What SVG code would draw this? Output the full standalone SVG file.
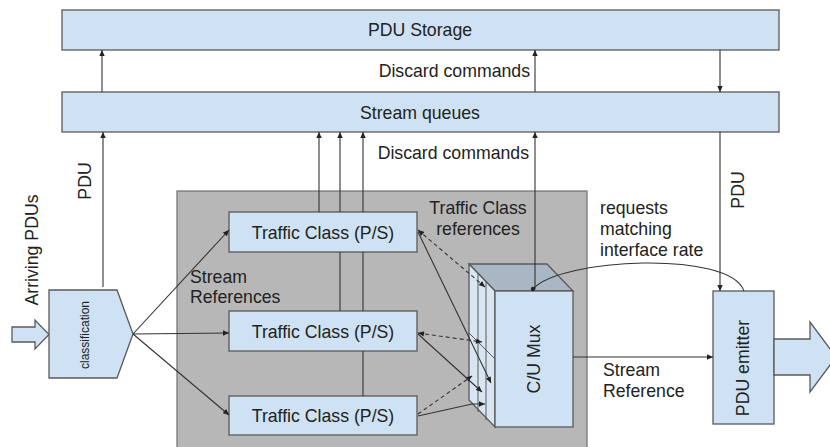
<svg xmlns="http://www.w3.org/2000/svg" width="830" height="447" viewBox="0 0 830 447">
<defs>
<marker id="ah" viewBox="0 0 10 10" refX="10" refY="5" markerWidth="7" markerHeight="6" orient="auto-start-reverse" markerUnits="userSpaceOnUse">
<path d="M0,0.5 L10,5 L0,9.5 z" fill="#222"/>
</marker>
<style>
.box{fill:#cfe2f3;stroke:#595959;stroke-width:1.3}
.t{font-family:"Liberation Sans",Arial,sans-serif;font-size:17.7px;fill:#222}
.s{font-size:12px}
.c{stroke:#333;stroke-width:1.1;fill:none}
.d{stroke-dasharray:4 3}
.m{text-anchor:middle;dominant-baseline:central}
</style>
</defs>
<rect x="0" y="0" width="830" height="447" fill="#ffffff"/>

<g id="group-box">
<rect x="177" y="191" width="410" height="262" fill="#b7b7b7" stroke="#6f6f6f" stroke-width="1.2"/>
</g>

<g id="pdu-storage">
<rect x="62" y="10" width="717" height="40" class="box"/>
<text x="420" y="30" class="t m">PDU Storage</text>
</g>

<g id="stream-queues">
<rect x="62" y="92" width="717" height="40" class="box"/>
<text x="420" y="113" class="t m">Stream queues</text>
</g>

<g id="input-arrow">
<polygon points="12,327 35,327 35,320 49,334.5 35,349 35,342 12,342" class="box"/>
</g>

<g id="classification">
<polygon points="49,290 117,290 133,334 117,378 49,378" class="box"/>
<text transform="translate(85,335) rotate(-90)" class="t s m">classification</text>
</g>

<g id="tc1">
<rect x="229" y="212" width="188" height="40" class="box"/>
<text x="323" y="233" class="t m">Traffic Class (P/S)</text>
</g>
<g id="tc2">
<rect x="229" y="311" width="188" height="40" class="box"/>
<text x="323" y="332" class="t m">Traffic Class (P/S)</text>
</g>
<g id="tc3">
<rect x="229" y="396" width="188" height="39" class="box"/>
<text x="323" y="416" class="t m">Traffic Class (P/S)</text>
</g>

<g id="mux">
<polygon points="469,264 547,264 573,291 495,291" fill="#a9b6c3" stroke="#595959" stroke-width="1.3"/>
<polygon points="469,264 495,291 495,427 469,400" fill="#d8e6f3" stroke="#595959" stroke-width="1.3"/>
<rect x="495" y="291" width="78" height="136" class="box"/>
<line x1="469" y1="333" x2="495" y2="359" stroke="#595959" stroke-width="1"/>
<line x1="478" y1="273" x2="478" y2="412" stroke="#595959" stroke-width="1"/>
<line x1="486" y1="281" x2="486" y2="420" stroke="#595959" stroke-width="1"/>
<text transform="translate(534,359) rotate(-90)" class="t m">C/U Mux</text>
</g>

<g id="pdu-emitter">
<rect x="713" y="291" width="61" height="133" class="box"/>
<text transform="translate(743,368) rotate(-90)" class="t m">PDU emitter</text>
</g>

<g id="output-arrow">
<polygon points="774,339 810,339 810,322 836,357 810,392 810,375 774,375" class="box"/>
</g>

<g id="connectors">
<path d="M102,92 V50" class="c" marker-end="url(#ah)"/>
<path d="M535,92 V50" class="c" marker-end="url(#ah)"/>
<path d="M720,50 V92" class="c" marker-end="url(#ah)"/>
<path d="M103,287 V132" class="c" marker-end="url(#ah)"/>
<path d="M319,212 V132" class="c" marker-end="url(#ah)"/>
<path d="M340,311 V252 M340,212 V132" class="c" marker-end="url(#ah)"/>
<path d="M363,396 V351 M363,311 V252 M363,212 V132" class="c" marker-end="url(#ah)"/>
<path d="M535,289 V132" class="c" marker-end="url(#ah)"/>
<path d="M720,132 V291" class="c" marker-end="url(#ah)"/>
<path d="M133,334 L229,230" class="c" marker-end="url(#ah)"/>
<path d="M133,334 L229,333" class="c" marker-end="url(#ah)"/>
<path d="M133,334 L229,415" class="c" marker-end="url(#ah)"/>
<path d="M418,230 L485,287" class="c d" marker-start="url(#ah)" marker-end="url(#ah)"/>
<path d="M418,333 L482,342" class="c d" marker-start="url(#ah)" marker-end="url(#ah)"/>
<path d="M418,414 L472,376" class="c d" marker-end="url(#ah)"/>
<path d="M418,232 L491,383" class="c" marker-end="url(#ah)"/>
<path d="M418,334 L482,392" class="c" marker-end="url(#ah)"/>
<path d="M418,416 L472,404 L485,404" class="c" marker-end="url(#ah)"/>
<path d="M533,289 C560,258 730,250 744,291" class="c"/>
<circle cx="533" cy="289" r="2.2" fill="#222"/>
<path d="M573,357 H713" class="c" marker-end="url(#ah)"/>
</g>

<g id="labels">
<text x="530" y="71" class="t" text-anchor="end" dominant-baseline="central">Discard commands</text>
<text x="529" y="153" class="t" text-anchor="end" dominant-baseline="central">Discard commands</text>
<text transform="translate(32,250) rotate(-90)" class="t m">Arriving PDUs</text>
<text transform="translate(85,181) rotate(-90)" class="t m">PDU</text>
<text transform="translate(738,190) rotate(-90)" class="t m">PDU</text>
<text x="190" y="277" class="t" dominant-baseline="central">Stream</text>
<text x="190" y="297" class="t" dominant-baseline="central">References</text>
<text x="478" y="208" class="t m">Traffic Class</text>
<text x="478" y="229" class="t m">references</text>
<text x="600" y="208" class="t" dominant-baseline="central">requests</text>
<text x="600" y="229" class="t" dominant-baseline="central">matching</text>
<text x="600" y="250" class="t" dominant-baseline="central">interface rate</text>
<text x="603" y="370" class="t" dominant-baseline="central">Stream</text>
<text x="603" y="391" class="t" dominant-baseline="central">Reference</text>
</g>
</svg>
